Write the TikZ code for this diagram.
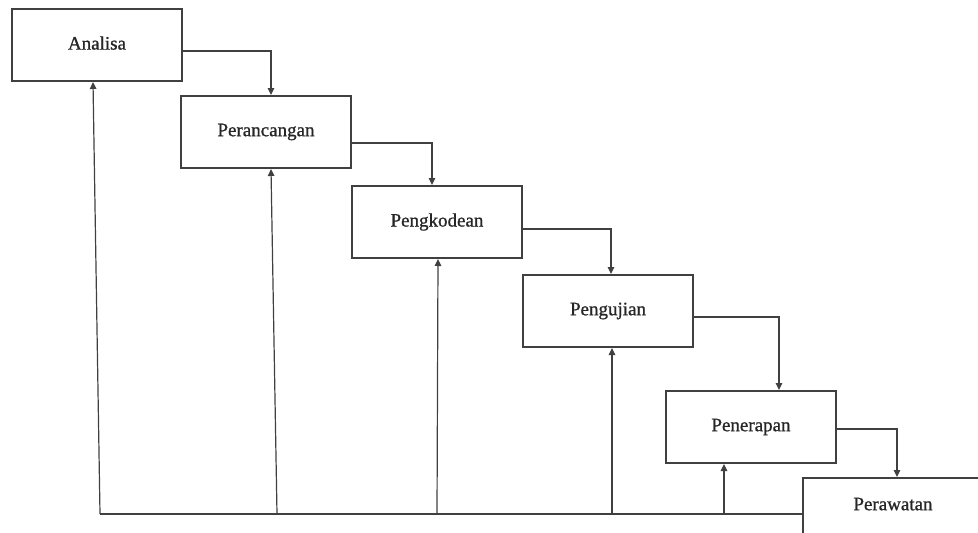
\documentclass[tikz,border=0pt]{standalone}
\usepackage{fontspec}
\setmainfont{Liberation Serif}
\newfontfamily\stagefont{Liberation Serif}[FakeBold=0.9]
\usetikzlibrary{arrows.meta,shadows}
\begin{document}
\begin{tikzpicture}[x=1pt,y=-1pt,
  stage/.style={draw=black!75, line width=2pt, fill=white, minimum width=170pt, minimum height=72pt, inner sep=0pt,
    font=\stagefont\fontsize{19}{22}\selectfont, text=black!85,
    drop shadow={shadow xshift=1.2pt, shadow yshift=-1.2pt, fill=black!20}},
  link/.style={draw=black!75, line width=1.2pt, -{Triangle[length=7pt,width=6.5pt]}},
  plain/.style={draw=black!75, line width=1.2pt}]
\useasboundingbox (0,0) rectangle (978,533);
\clip (0,0) rectangle (978,533);
\node[stage] (analisa) at (97,45) {\raisebox{4pt}{Analisa}};
\node[stage] (perancangan) at (266,132) {\raisebox{2pt}{Perancangan}};
\node[stage] (pengkodean) at (437,222) {\raisebox{4pt}{Pengkodean}};
\node[stage] (pengujian) at (608,311) {\raisebox{2pt}{Pengujian}};
\node[stage] (penerapan) at (751,427) {\raisebox{2pt}{Penerapan}};
\node[stage, minimum width=180pt] (perawatan) at (893,514) {\raisebox{20pt}{Perawatan}};
\coordinate (b1) at (100,514);
\coordinate (b2) at (277,514);
\coordinate (b3) at (437,514);
\coordinate (b4) at (612,514);
\coordinate (b5) at (724,514);
% forward flow
\draw[link] ([yshift=-6pt]analisa.east) -| ([xshift=5pt]perancangan.north);
\draw[link] ([yshift=-11pt]perancangan.east) -| ([xshift=-5pt]pengkodean.north);
\draw[link] ([yshift=-7pt]pengkodean.east) -| ([xshift=3pt]pengujian.north);
\draw[link] ([yshift=-6pt]pengujian.east) -| ([xshift=28pt]penerapan.north);
\draw[link] ([yshift=-2pt]penerapan.east) -| ([xshift=4pt]perawatan.north);
% feedback
\draw[plain] (b1) -- (b1 -| perawatan.west);
\draw[link] (b1) -- ([xshift=-4pt]analisa.south);
\draw[link] (b2) -- ([xshift=5pt]perancangan.south);
\draw[link] (b3) -- ([xshift=1pt]pengkodean.south);
\draw[link] (b4) -- ([xshift=4pt]pengujian.south);
\draw[link] (b5) -- ([xshift=-27pt]penerapan.south);
\end{tikzpicture}
\end{document}
